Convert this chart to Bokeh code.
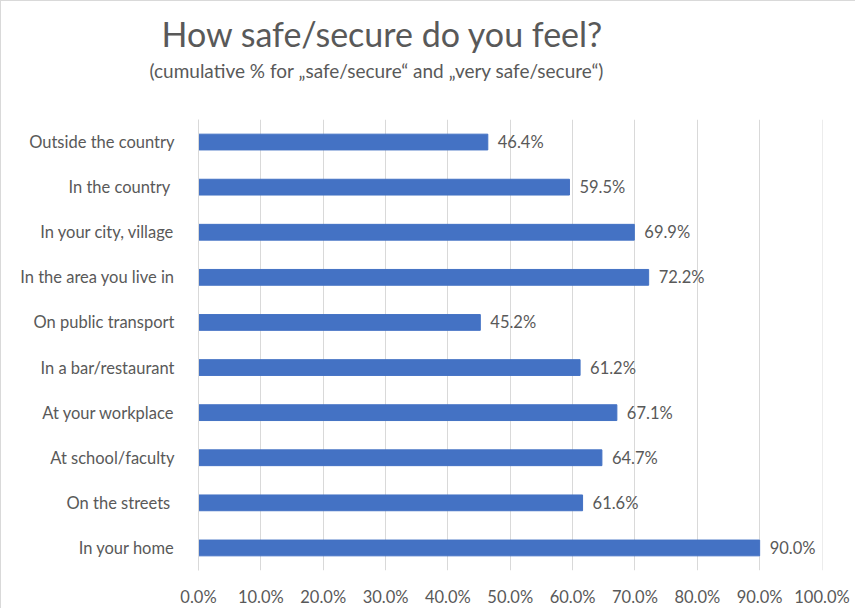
from bokeh.plotting import figure
from bokeh.models import ColumnDataSource, NumeralTickFormatter, Title, FixedTicker
from bokeh.core.properties import value
from bokeh.embed import file_html
from bokeh.resources import INLINE

categories = ["Outside the country", "In the country ", "In your city, village",
              "In the area you live in", "On public transport", "In a bar/restaurant",
              "At your workplace", "At school/faculty", "On the streets ", "In your home"]
values = [46.4, 59.5, 69.9, 72.2, 45.2, 61.2, 67.1, 64.7, 61.6, 90.0]
x_ticks = [0.0, 0.1, 0.2, 0.3, 0.4, 0.5, 0.6, 0.7, 0.8, 0.9, 1.0]

title_text = "How safe/secure do you feel?"
subtitle_text = "(cumulative % for \u201esafe/secure\u201c and \u201every safe/secure\u201c)"

FONT = "Lato"
GREY = "#595959"

source = ColumnDataSource(dict(
    cat=categories,
    val=[v / 100 for v in values],
    lbl=[f"{v:.1f}%" for v in values],
))

W, H = 855, 608
FL, FR, FT, FB = 197, 821, 118, 570

p = figure(
    width=W, height=H,
    y_range=list(reversed(categories)),
    x_range=(0, 1.0008),
    output_backend="svg", toolbar_location=None,
    min_border_left=FL, min_border_right=W - FR,
    min_border_top=FT, min_border_bottom=H - FB,
    title=None,
)
p.styles = {"border-left": "1px solid #d9d9d9", "border-top": "1px solid #d9d9d9"}
p.outline_line_color = None

p.hbar(y="cat", right="val", left=0, height=0.35, color="#4472C4", source=source)
p.text(x="val", y="cat", text="lbl", source=source, x_offset=10,
       text_baseline="middle", text_align="left",
       text_font=value(FONT), text_font_size="16.5px", text_color=GREY)

p.xaxis.ticker = FixedTicker(ticks=x_ticks)
p.xaxis.formatter = NumeralTickFormatter(format="0.0%")
p.xaxis.axis_line_color = None
p.xaxis.major_tick_line_color = None
p.xaxis.minor_tick_line_color = None
p.xaxis.major_label_standoff = 10
p.xaxis.major_label_text_font = FONT
p.xaxis.major_label_text_font_size = "16.5px"
p.xaxis.major_label_text_color = GREY

p.yaxis.axis_line_color = "#d9d9d9"
p.yaxis.major_tick_line_color = None
p.yaxis.minor_tick_line_color = None
p.yaxis.major_label_standoff = 18
p.yaxis.major_label_text_font = FONT
p.yaxis.major_label_text_font_size = "16.5px"
p.yaxis.major_label_text_color = GREY

p.xgrid.grid_line_color = "#d9d9d9"
p.ygrid.grid_line_color = None

# panels stack upward from the frame: invisible spacer, subtitle, title
p.add_layout(Title(text=".", text_font_size="1px", text_color="#ffffff", standoff=33), "above")
p.add_layout(Title(text=subtitle_text, align="left", offset=148 - FL, standoff=4,
                   text_font=FONT, text_font_size="19px", text_color=GREY,
                   text_font_style="normal"), "above")
p.add_layout(Title(text=title_text, align="left", offset=160 - FL, standoff=2,
                   text_font=FONT, text_font_size="34px", text_color=GREY,
                   text_font_style="normal"), "above")

open("out.html", "w").write(file_html(p, INLINE))
